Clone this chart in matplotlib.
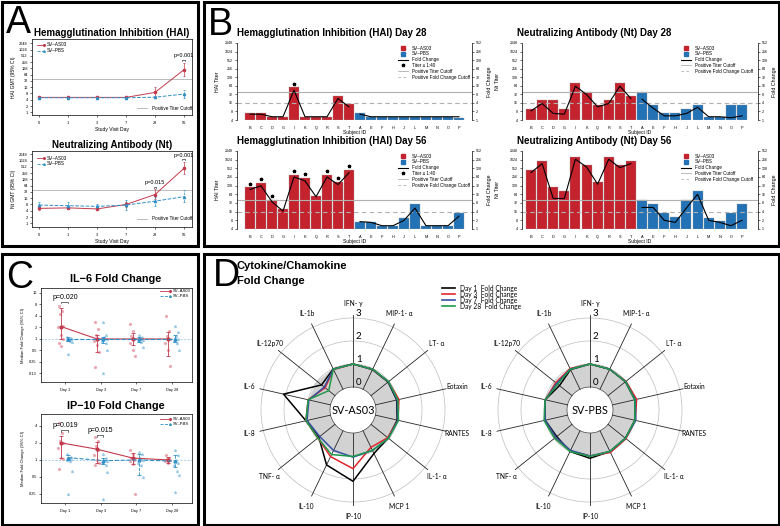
import numpy as np
import matplotlib.pyplot as plt
from matplotlib.lines import Line2D
from matplotlib.patches import Rectangle, Polygon, Circle

plt.rcParams['font.family'] = ['Liberation Sans', 'DejaVu Sans']
plt.rcParams['axes.linewidth'] = 0.5

W, H = 780, 526
fig = plt.figure(figsize=(W / 100, H / 100), dpi=100)

RED = '#c4232e'
BLUE = '#2272b5'
RED_L = '#c23a4c'
BLUE_L = '#2f8fc6'
GREY = '#b0b0b0'

# ---------------- data: panel A (GMT, 95% CI) ----------------
days = ['0', '1', '3', '7', '28', '56']
hai_as03 = [5.2, 5.2, 5.2, 5.2, 9, 110]
hai_as03_lo = [4.9, 4.9, 4.9, 4.9, 6, 55]
hai_as03_hi = [5.5, 5.5, 5.5, 5.6, 16, 240]
hai_pbs = [5.0, 5.0, 5.0, 5.0, 5.3, 7.5]
hai_pbs_lo = [4.8, 4.8, 4.8, 4.8, 4.6, 5.0]
hai_pbs_hi = [5.2, 5.2, 5.2, 5.2, 6.1, 11.5]
hai_p = {5: 'p=0.001'}

nt_as03 = [5.2, 5.5, 4.9, 8.0, 24, 430]
nt_as03_lo = [4.5, 4.6, 4.4, 6.0, 14, 230]
nt_as03_hi = [6.2, 6.6, 5.6, 11, 42, 900]
nt_pbs = [7.5, 7.0, 6.5, 7.5, 11.5, 19]
nt_pbs_lo = [5.0, 4.8, 4.8, 4.5, 7.0, 10.5]
nt_pbs_hi = [11, 10.5, 8.5, 13, 19, 38]
nt_p = {4: 'p=0.015', 5: 'p=0.001'}

# ---------------- data: panel B (per subject) ----------------
subjects = ['B', 'C', 'D', 'G', 'I', 'K', 'Q', 'R', 'S', 'T',
            'A', 'E', 'F', 'H', 'J', 'L', 'M', 'N', 'O', 'P']
hai28_titer = [7, 7, 5, 5, 56, 5, 5, 5, 28, 14.5, 7, 5, 5, 5, 5, 5, 5, 5, 5, 4.8]
hai28_fold = [1.6, 1.6, 1.3, 1.3, 11.2, 1.3, 1.3, 1.3, 5.7, 2.9,
              1.6, 1.3, 1.3, 1.3, 1.3, 1.3, 1.3, 1.3, 1.3, 1.3]
hai28_star = ['I']
hai56_titer = [111, 161, 40, 20, 311, 232, 57, 311, 174, 465,
               7, 7, 5.2, 5.2, 10, 29, 5.2, 5.2, 5.2, 14.7]
hai56_fold = [23.6, 31.6, 8.8, 4.2, 64, 47, 13.2, 64, 35, 90,
              1.8, 1.7, 1.3, 1.3, 2.0, 5.3, 1.3, 1.3, 1.3, 2.8]
hai56_star = ['B', 'C', 'D', 'I', 'K', 'R', 'S', 'T']
nt28_titer = [10, 20, 20, 10, 80, 40, 14, 20, 80, 28,
              40, 14, 7, 7, 10, 14, 5, 5, 14, 14]
nt28_fold = [2.1, 3.8, 1.7, 1.6, 15.5, 7.9, 2.9, 3.8, 15.5, 5.7,
             5.4, 2.6, 1.4, 1.4, 1.7, 2.8, 1.3, 1.3, 1.2, 1.4]
nt56_titer = [465, 900, 111, 83, 1300, 680, 165, 1300, 680, 900,
              40, 29, 14.7, 10.7, 40, 83, 10, 7.6, 14.7, 29]
nt56_fold = [91, 187, 11.5, 11.5, 265, 143, 36, 265, 135, 187,
             5.6, 5.6, 2.0, 1.7, 5.4, 16, 2.0, 1.7, 1.3, 2.0]

# ---------------- data: panel C (median fold change, 95% CI, subjects) ----------------
visit = ['Day 1', 'Day 3', 'Day 7', 'Day 28']
il6_as03 = [2.1, 1.0, 1.0, 1.0]
il6_as03_lo = [1.0, 0.45, 0.7, 0.35]
il6_as03_hi = [6.5, 1.3, 1.4, 1.5]
il6_pbs = [1.0, 1.0, 1.0, 1.0]
il6_pbs_lo = [0.9, 0.8, 0.85, 0.85]
il6_pbs_hi = [1.1, 1.1, 1.15, 1.3]
il6_as03_pts = [[7.5, 5.5, 4.6, 2.2, 2.0, 1.3, 1.0, 0.8, 0.65],
                [2.8, 1.8, 1.3, 1.0, 0.9, 0.7, 0.45, 0.18],
                [2.5, 1.6, 1.2, 1.0, 0.8, 0.5, 0.35],
                [3.9, 1.6, 1.2, 1.0, 0.8, 0.5, 0.2]]
il6_pbs_pts = [[1.1, 1.05, 1.0, 1.0, 0.95, 0.9, 0.85, 0.4],
               [2.8, 1.3, 1.1, 1.0, 0.9, 0.8, 0.5, 0.13],
               [1.3, 1.1, 1.0, 0.95, 0.9, 0.85, 0.6],
               [2.2, 1.5, 1.2, 1.0, 0.9, 0.8, 0.5]]
il6_p = {0: 'p=0.020'}

ip10_as03 = [2.0, 1.55, 1.08, 1.0]
ip10_as03_lo = [1.1, 0.9, 0.85, 0.9]
ip10_as03_hi = [2.6, 2.1, 1.35, 1.12]
ip10_pbs = [1.1, 0.97, 1.0, 0.95]
ip10_pbs_lo = [1.0, 0.85, 0.55, 0.75]
ip10_pbs_hi = [1.2, 1.1, 1.3, 1.2]
ip10_as03_pts = [[4.5, 3.0, 2.2, 2.0, 1.6, 1.1, 1.05, 0.7],
                 [2.5, 2.2, 1.8, 1.5, 1.2, 1.0, 0.9, 0.8],
                 [1.5, 1.3, 1.1, 1.0, 0.95, 0.85, 0.25],
                 [1.2, 1.1, 1.05, 1.0, 0.95, 0.9]]
ip10_pbs_pts = [[1.3, 1.15, 1.1, 1.05, 1.0, 0.95, 0.65, 0.25],
                [1.3, 1.1, 1.0, 0.95, 0.9, 0.8, 0.6, 0.2],
                [1.4, 1.25, 1.1, 1.0, 0.9, 0.8, 0.5],
                [1.5, 1.2, 1.0, 0.9, 0.8, 0.65, 0.55, 0.27]]
ip10_p = {0: 'p=0.019', 1: 'p=0.015'}

# ---------------- data: panel D (radar, fold change) ----------------
cytokines = ['IFN- γ', 'MIP-1- α', 'LT- α', 'Eotaxin', 'RANTES', 'IL-1- α', 'MCP 1',
             'IP-10', 'IL-10', 'TNF- α', 'IL-8', 'IL-6', 'IL-12p70', 'IL-1b']
as03_d1 = [1.0, 0.95, 0.95, 0.95, 0.97, 0.95, 1.1, 2.1, 1.65, 0.9, 1.1, 2.1, 0.75, 0.98]
as03_d3 = [1.0, 0.97, 0.97, 1.05, 1.0, 0.93, 0.8, 1.55, 1.25, 0.95, 1.1, 1.0, 0.55, 0.95]
as03_d7 = [1.0, 0.97, 0.97, 0.97, 1.0, 0.97, 0.95, 1.05, 0.95, 0.85, 1.05, 0.97, 0.6, 0.97]
as03_d28 = [1.0, 0.97, 0.98, 1.0, 1.03, 0.97, 0.95, 1.02, 1.15, 0.95, 1.1, 1.0, 0.35, 0.97]
pbs_d1 = [1.0, 0.97, 0.97, 1.0, 1.0, 0.97, 1.0, 1.1, 1.0, 0.85, 1.0, 1.0, 0.7, 0.95]
pbs_d3 = [1.0, 0.97, 1.0, 1.08, 1.02, 1.0, 1.05, 1.0, 0.97, 0.95, 1.02, 1.0, 0.9, 1.0]
pbs_d7 = [1.0, 0.97, 0.98, 1.02, 1.04, 0.97, 1.0, 1.0, 0.95, 0.9, 1.0, 1.0, 0.85, 0.97]
pbs_d28 = [1.0, 0.97, 0.98, 1.0, 1.0, 0.97, 1.0, 1.02, 1.0, 0.97, 1.05, 1.0, 0.8, 0.97]
day_labels = ['Day 1  Fold Change', 'Day 3  Fold Change', 'Day 7  Fold Change', 'Day 28  Fold Change']
day_colors = ['black', '#e3262d', '#3450a2', '#1f9a4a']


def fx(x):
    return x / W


def fy(y):
    return 1 - y / H


def px_axes(l, t, r, b, **kw):
    return fig.add_axes([fx(l), fy(b), (r - l) / W, (b - t) / H], **kw)


def ftext(x, y, s, **kw):
    kw.setdefault('va', 'center')
    return fig.text(fx(x), fy(y), s, **kw)


def fline(xs, ys, **kw):
    fig.add_artist(Line2D([fx(v) for v in xs], [fy(v) for v in ys], **kw))


# panel frames and letters
for (l, t, r, b) in [(1.5, 1.5, 198, 245.5), (203.5, 1.5, 778.5, 245.5),
                     (1.5, 253.5, 198, 524.5), (203.5, 253.5, 778.5, 524.5)]:
    fig.add_artist(Rectangle((fx(l), fy(b)), (r - l) / W, (b - t) / H, fill=False,
                             lw=2.2, ec='black', transform=fig.transFigure))
ftext(6, 33, 'A', fontsize=27, va='baseline')
ftext(208, 35, 'B', fontsize=27, va='baseline')
ftext(6, 288, 'C', fontsize=27, va='baseline')
ftext(213, 286, 'D', fontsize=27, va='baseline')


# ---------------- panel A ----------------
def gmt_panel(box, ylim, title, ty, ylab, as03, blue, pvals, leg_y, cut_y):
    l, t, r, b = box
    ax = px_axes(l, t, r, b)
    x = np.arange(len(days))
    ax.set_yscale('log', base=2)
    for (m, lo, hi), col, ls, mk in [(as03, RED_L, '-', 'o'), (blue, BLUE_L, '--', '^')]:
        m, lo, hi = np.array(m), np.array(lo), np.array(hi)
        eb = ax.errorbar(x, m, yerr=[m - lo, hi - m], color=col, ls=ls, lw=0.7, marker=mk,
                         ms=1.6, capsize=1.0, elinewidth=0.5, capthick=0.5)
        if ls == '--':
            eb[2][0].set_linestyle('--')
    ax.axhline(40, color=GREY, lw=0.6, zorder=0)
    for i, s in pvals.items():
        top = as03[2][i]
        ax.plot([i - 0.05, i - 0.05, i + 0.05, i + 0.05],
                [top * 1.15, top * 1.3, top * 1.3, top * 1.15], color='black', lw=0.4)
        ax.text(i, top * 1.6, s, fontsize=4, ha='center', va='bottom')
    ax.set_xlim(-0.25, 5.28)
    ax.set_ylim(2 ** ylim[0], 2 ** ylim[1])
    ticks = [2 ** k for k in range(12)]
    ax.set_yticks(ticks, [str(v) for v in ticks])
    ax.minorticks_off()
    ax.set_xticks(x, days)
    ax.tick_params(labelsize=2.8, length=1.5, width=0.4, pad=1.5)
    ax.tick_params(axis='x', pad=3)
    ax.set_xlabel('Study Visit Day', fontsize=3.6, labelpad=1)
    ax.set_ylabel(ylab, fontsize=3.6, labelpad=2)
    ftext((l + r) / 2, ty, title, fontsize=7, fontweight='bold', ha='center')
    fline([37, 44], [leg_y, leg_y], color=RED_L, lw=0.6, marker='o', ms=1.2, markevery=[1])
    fline([37, 44], [leg_y + 5.5, leg_y + 5.5], color=BLUE_L, lw=0.6, ls='--', marker='^', ms=1.2,
          markevery=[1])
    ftext(47, leg_y, 'SV\u2013AS03', fontsize=3.3)
    ftext(47, leg_y + 5.5, 'SV\u2013PBS', fontsize=3.3)
    fline([137, 147], [cut_y, cut_y], color=GREY, lw=0.6)
    ftext(152, cut_y, 'Positive Titer Cutoff', fontsize=3.3)


gmt_panel((32, 39, 192, 115), (-0.43, 11.69), 'Hemagglutination Inhibition (HAI)', 33,
          'HAI GMT (95% CI)', (hai_as03, hai_as03_lo, hai_as03_hi),
          (hai_pbs, hai_pbs_lo, hai_pbs_hi), hai_p, 45, 108)
gmt_panel((32, 151, 192, 227), (-0.59, 11.53), 'Neutralizing Antibody (Nt)', 145,
          'Nt GMT (95% CI)', (nt_as03, nt_as03_lo, nt_as03_hi),
          (nt_pbs, nt_pbs_lo, nt_pbs_hi), nt_p, 158, 219)


# ---------------- panel B ----------------
def bar_panel(spines, first_last, title, tx, ylab, titer, fold, stars, lab_off):
    l, t, r, b = spines
    c0, c1 = first_last
    unit = (c1 - c0) / 19.0
    ax = px_axes(l, t, r, b)
    x = np.arange(len(subjects))
    ax.set_yscale('log', base=2)
    cols = [RED] * 10 + [BLUE] * 10
    ax.bar(x, np.array(titer) - 4, bottom=4, width=0.9, color=cols, edgecolor='#9a9a9a', lw=0.25)
    ax.set_xlim(-(c0 - l) / unit, 19 + (r - c1) / unit)
    ax.set_ylim(4, 2048)
    ax.axhline(40, color=GREY, lw=0.8)
    ax.axhline(16, color=GREY, lw=0.8, ls=(0, (4, 3)))
    if stars is not None:
        idx = [subjects.index(s) for s in stars]
        ax.plot(idx, np.array(titer)[idx] * 1.35, ls='none', marker='*', ms=2.4, color='black')
    ticks = [2 ** k for k in range(2, 12)]
    ax.set_yticks(ticks, [str(v) for v in ticks])
    ax.minorticks_off()
    ax.set_xticks(x, subjects)
    for s in ['top', 'bottom', 'right']:
        ax.spines[s].set_visible(False)
    ax.tick_params(axis='y', labelsize=2.6, length=1.5, width=0.4, pad=1.5)
    ax.tick_params(axis='x', labelsize=2.8, length=0, pad=4)
    ax.set_xlabel('Subject ID', fontsize=3.6, labelpad=0.5)
    ax.set_ylabel(ylab, fontsize=3.8)
    ax.yaxis.set_label_coords(-lab_off[0] / (r - l), 0.5)
    ax2 = ax.twinx()
    ax2.set_yscale('log', base=2)
    ax2.plot(x[:10], fold[:10], color='black', lw=0.8)
    ax2.plot(x[10:], fold[10:], color='black', lw=0.8)
    ax2.set_ylim(1, 512)
    rt = [2 ** k for k in range(0, 10)]
    ax2.set_yticks(rt, [str(v) for v in rt])
    ax2.minorticks_off()
    for s in ['top', 'bottom', 'left']:
        ax2.spines[s].set_visible(False)
    ax2.tick_params(axis='y', labelsize=2.6, length=1.5, width=0.4, pad=1.5)
    ax2.set_ylabel('Fold Change', fontsize=3.8)
    ax2.yaxis.set_label_coords(1 + lab_off[1] / (r - l), 0.5)
    ftext(tx, t - 10, title, fontsize=7, fontweight='bold', ha='left')
    # legend
    hx = r - 72 if stars is not None else r - 75
    rows = [('s', RED, 'SV\u2013AS03'), ('s', BLUE, 'SV\u2013PBS'), ('-', 'black', 'Fold Change')]
    if stars is not None:
        rows.append(('*', 'black', 'Titer \u2265 1:40'))
    rows += [('-', GREY, 'Positive Titer Cutoff'), ('--', GREY, 'Positive Fold Change Cutoff')]
    for k, (kind, col, lab) in enumerate(rows):
        yy = t + 5 + k * 5.8
        if kind in ('s', '*'):
            fline([hx + 3], [yy], ls='none', marker=kind, ms=2.2 if kind == 's' else 2.4, color=col)
        else:
            fline([hx - 2, hx + 8], [yy, yy], color=col, lw=0.8 if col == 'black' else 0.6,
                  ls='-' if kind == '-' else (0, (3, 3)))
        ftext(hx + 12, yy, lab, fontsize=3.3)
    return ax


bar_panel((237, 43, 472, 120), (250, 459), 'Hemagglutination Inhibition (HAI) Day 28', 237,
          'HAI Titer', hai28_titer, hai28_fold, hai28_star, (17, 15))
bar_panel((522, 43, 758, 120), (531, 742), 'Neutralizing Antibody (Nt) Day 28', 517,
          'Nt Titer', nt28_titer, nt28_fold, None, (22, 14))
bar_panel((237, 151, 472, 229), (250, 459), 'Hemagglutination Inhibition (HAI) Day 56', 237,
          'HAI Titer', hai56_titer, hai56_fold, hai56_star, (17, 15))
bar_panel((522, 151, 758, 229), (531, 742), 'Neutralizing Antibody (Nt) Day 56', 517,
          'Nt Titer', nt56_titer, nt56_fold, None, (22, 14))


# ---------------- panel C ----------------
jit = [-0.05, 0.04, -0.02, 0.06, -0.07, 0.02, 0.07, -0.04, 0.0]


def fold_panel(box, ylim, yticks, ylabels, title, ty, as03, pbs, as03_pts, pbs_pts, pvals, pf, leg_y):
    l, t, r, b = box
    ax = px_axes(l, t, r, b)
    x = np.arange(1, 5)
    ax.set_yscale('log', base=2)
    ax.axhline(1, color='#8fc1e0', lw=0.5, ls=(0, (3, 2)), zorder=0)
    for i in range(4):
        pr = as03_pts[i]
        ax.plot(x[i] - 0.12 + np.array(jit[:len(pr)]), pr, ls='none', marker='o', ms=1.3,
                color='#e8a4ae', alpha=0.9)
        pb = pbs_pts[i]
        ax.plot(x[i] + 0.12 + np.array(jit[:len(pb)]), pb, ls='none', marker='^', ms=1.3,
                color='#93c6e4', alpha=0.9)
    for (m, lo, hi), col, ls, mk, dx in [(as03, RED_L, '-', 'o', -0.1), (pbs, BLUE_L, '--', '^', 0.08)]:
        m, lo, hi = np.array(m), np.array(lo), np.array(hi)
        eb = ax.errorbar(x + dx, m, yerr=[m - lo, hi - m], color=col, ls=ls, lw=0.8, marker=mk,
                         ms=2, capsize=1.2, elinewidth=0.6, capthick=0.6)
        if ls == '--':
            eb[2][0].set_linestyle('--')
    for i, s in pvals.items():
        top = as03[2][i] * pf
        ax.plot([x[i] - 0.1, x[i] - 0.1, x[i] + 0.08, x[i] + 0.08],
                [top / 1.08, top, top, top / 1.08], color='black', lw=0.4)
        ax.text(x[i], top * 1.06, s, fontsize=5, ha='center', va='bottom')
    ax.set_xlim(0.33, 4.56)
    ax.set_ylim(2 ** ylim[0], 2 ** ylim[1])
    ax.set_yticks(yticks, ylabels)
    ax.minorticks_off()
    ax.set_xticks(x, visit)
    ax.tick_params(labelsize=2.8, length=1.5, width=0.4, pad=1.5)
    ax.tick_params(axis='x', pad=3)
    ax.set_ylabel('Median Fold Change (95% CI)', fontsize=3, labelpad=3)
    ftext((l + r) / 2 - 1, ty, title, fontsize=7.8, fontweight='bold', ha='center')
    fline([160, 170], [leg_y, leg_y], color=RED_L, lw=0.6, marker='o', ms=1.2, markevery=[1])
    fline([160, 170], [leg_y + 5, leg_y + 5], color=BLUE_L, lw=0.6, ls='--', marker='^', ms=1.2,
          markevery=[1])
    ftext(173, leg_y, 'SV\u2013AS03', fontsize=3)
    ftext(173, leg_y + 5, 'SV\u2013PBS', fontsize=3)


fold_panel((41, 288, 192, 382), (-3.74, 4.43), [0.125, 0.25, 0.5, 1, 2, 4, 8, 16],
           ['0.13', '0.25', '0.5', '1', '2', '4', '8', '16'], 'IL\u22126 Fold Change', 279,
           (il6_as03, il6_as03_lo, il6_as03_hi), (il6_pbs, il6_pbs_lo, il6_pbs_hi),
           il6_as03_pts, il6_pbs_pts, il6_p, 1.45, 291)
fold_panel((41, 414, 192, 503), (-2.53, 2.7), [0.25, 0.5, 1, 2, 4],
           ['0.25', '0.5', '1', '2', '4'], 'IP\u221210 Fold Change', 406,
           (ip10_as03, ip10_as03_lo, ip10_as03_hi), (ip10_pbs, ip10_pbs_lo, ip10_pbs_hi),
           ip10_as03_pts, ip10_pbs_pts, ip10_p, 1.3, 419)


# ---------------- panel D ----------------
DFONT = ['Lato', 'DejaVu Sans']


def radar(cx, cy, name, series):
    R = 115
    ax = px_axes(cx - R, cy - R, cx + R, cy + R)
    lim = R / 23.0
    ax.set_xlim(-lim, lim)
    ax.set_ylim(-lim, lim)
    ax.axis('off')
    th = np.deg2rad(90 - np.arange(len(cytokines)) * 360.0 / len(cytokines))
    c, s = np.cos(th), np.sin(th)
    ax.add_patch(Polygon(np.c_[2 * c, 2 * s], closed=True, fc='#d2d2d2', ec='none', zorder=1))
    for rr in (2, 3, 4):
        ax.add_patch(Circle((0, 0), rr, fill=False, ec='#bdbdbd', lw=0.5, zorder=1.5))
    ax.add_patch(Circle((0, 0), 1, fc='white', ec='#444444', lw=0.5, zorder=2))
    for ci, si in zip(c, s):
        ax.plot([ci, 4.15 * ci], [si, 4.15 * si], color='#262626', lw=0.6, zorder=2)
    for vals, col in zip(series, day_colors):
        rr = np.array(vals) + 1
        ax.plot(np.r_[rr * c, rr[0] * c[0]], np.r_[rr * s, rr[0] * s[0]], color=col, lw=1.1, zorder=3)
    for k in range(4):
        ax.text(0.12, k + 1.2, str(k), fontsize=7, ha='left', va='center', family=DFONT, zorder=4)
    for lab, ci, si in zip(cytokines, c, s):
        ax.text(4.65 * ci, 4.65 * si, lab, fontsize=4.8, ha='center', va='center', family=DFONT)
    ax.text(0, 0, name, fontsize=7.8, ha='center', va='center', family=DFONT, zorder=4)


radar(353, 410, 'SV-AS03', [as03_d1, as03_d3, as03_d7, as03_d28])
radar(590, 410, 'SV-PBS', [pbs_d1, pbs_d3, pbs_d7, pbs_d28])

ftext(237, 266, 'Cytokine/Chamokine', fontsize=8, fontweight='bold', ha='left')
ftext(237, 281, 'Fold Change', fontsize=8, fontweight='bold', ha='left')
for k, (lab, col) in enumerate(zip(day_labels, day_colors)):
    yy = 288 + 6 * k
    fline([442, 455], [yy, yy], color=col, lw=1.2)
    ftext(460, yy, lab, fontsize=4.8, ha='left', family=DFONT)

fig.savefig('out.png', dpi=100)
